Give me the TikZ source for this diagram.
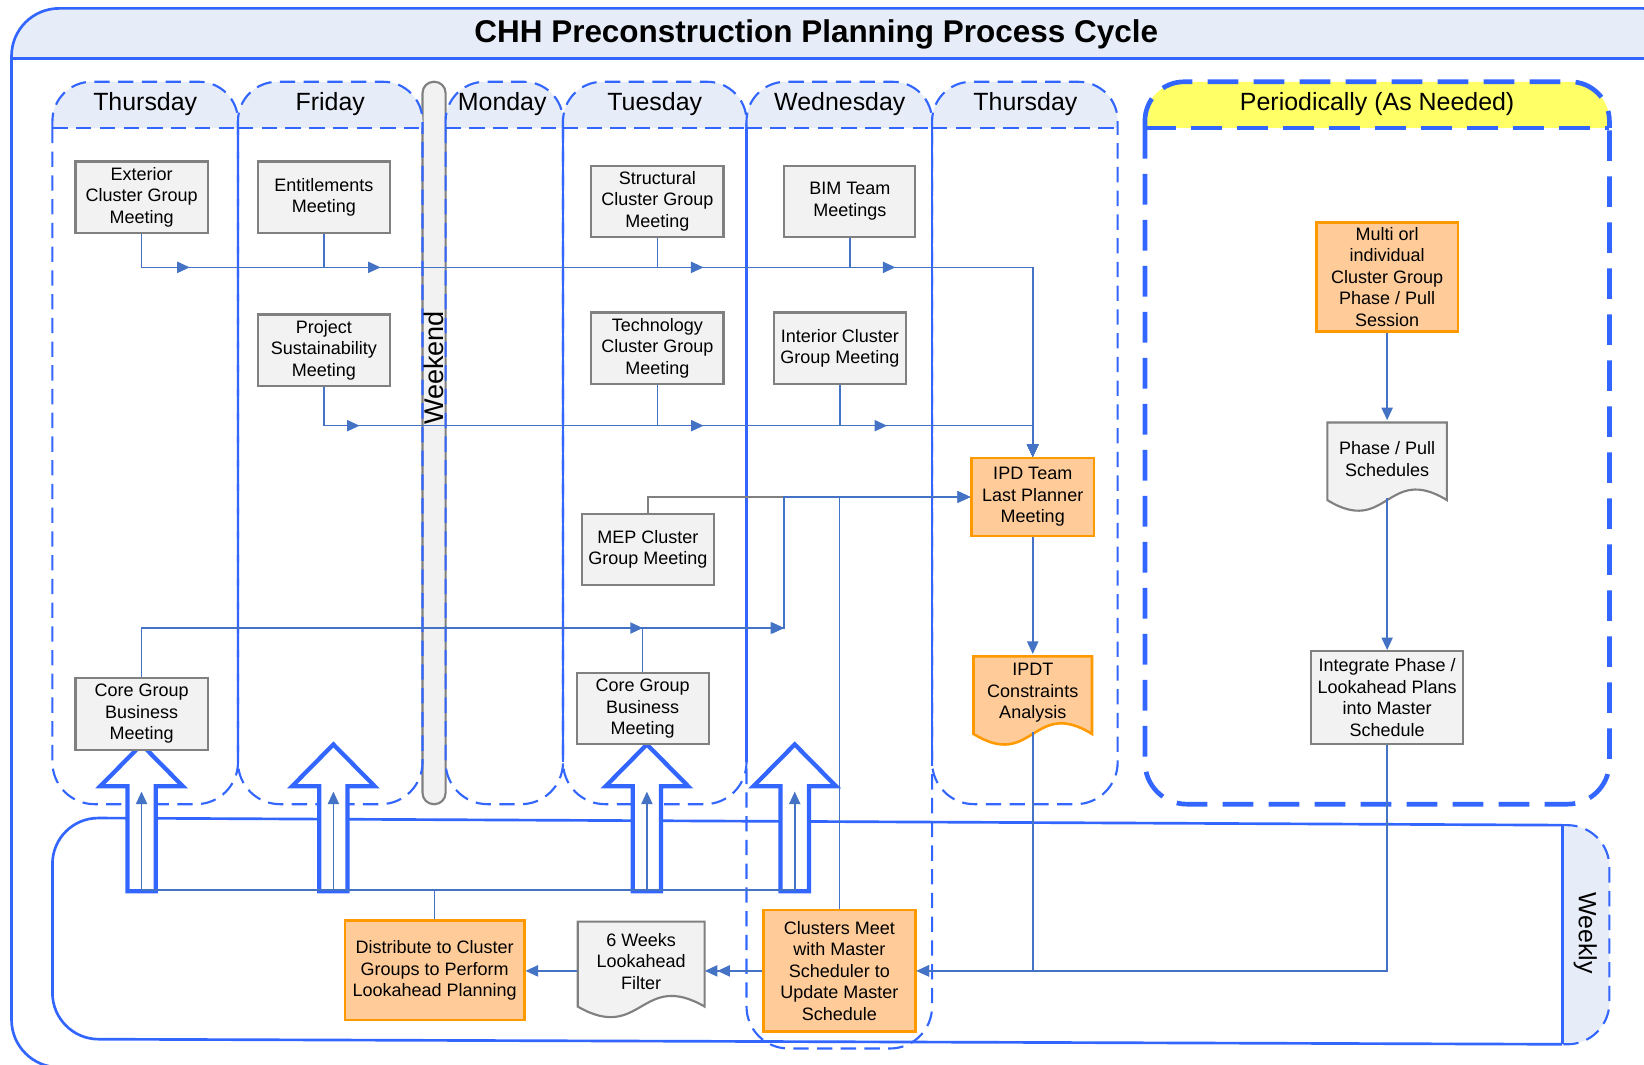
\documentclass[tikz,border=0pt]{standalone}
\usepackage{fontspec}
\setmainfont{Liberation Sans}
\usetikzlibrary{arrows.meta,decorations.markings}
\definecolor{laneblue}{RGB}{51,102,255}
\definecolor{connblue}{RGB}{68,114,196}
\definecolor{hdr}{RGB}{231,237,248}
\definecolor{boxfill}{RGB}{242,242,242}
\definecolor{boxgray}{RGB}{128,128,128}
\definecolor{orfill}{RGB}{255,204,153}
\definecolor{orbd}{RGB}{255,153,0}
\definecolor{yel}{RGB}{255,255,102}
\newcommand\bxfont{\fontsize{13.5}{16.1}\selectfont}
\newcommand\dyfont{\fontsize{18.7}{22}\selectfont}
\newcommand\wkfont{\fontsize{20.3}{24}\selectfont}
\newcommand\ttlfont{\fontsize{23.6}{28}\selectfont\bfseries}
\newcommand\docshape[6]{%
  \path[#1] (#2,#3) -- (#4,#3) -- (#4,#5) .. controls ({(#2+#4)/2},{#5-#6}) and ({(#2+#4)/2},{#5+#6}) .. (#2,#5) -- cycle;}
\newcommand\daylane[3]{%
  \fill[hdr,rounded corners=29.4pt] (#1,122) -- (#1,78) -- (#2,78) -- (#2,122);
  \draw[lanebd,rounded corners=29.4pt] (#1,122) -- (#1,78) -- (#2,78) -- (#2,122);
  \draw[lanebd] (#1,122) -- (#2,122);
  \draw[lanebd,rounded corners=31.5pt] (#1,122) -- (#1,#3) -- (#2,#3) -- (#2,122);}
\newcommand\bigarrow[1]{%
  \draw[bigarr] ({#1-13.5},850) -- ({#1-13.5},750) -- ({#1-39.5},750) -- (#1,710) -- ({#1+39.5},750) -- ({#1+13.5},750) -- ({#1+13.5},850) -- cycle;}
\begin{document}
\begin{tikzpicture}[x=0.7864pt,y=-0.7864pt,
  lanebd/.style={draw=laneblue,line width=1.6pt,dash pattern=on 11.5pt off 6.3pt},
  perbd/.style={draw=laneblue,line width=3.5pt,dash pattern=on 23pt off 11.5pt},
  solidlane/.style={draw=laneblue,line width=1.6pt},
  gbox/.style={draw=boxgray,fill=boxfill,line width=1.6pt,inner sep=0pt,align=center,font=\bxfont},
  obox/.style={draw=orbd,fill=orfill,line width=1.9pt,inner sep=0pt,align=center,font=\bxfont},
  gdoc/.style={draw=boxgray,fill=boxfill,line width=1.6pt},
  odoc/.style={draw=orbd,fill=orfill,line width=1.9pt},
  dtext/.style={inner sep=0pt,align=center,font=\bxfont},
  sz/.style 2 args={minimum width={#1*0.7864pt},minimum height={#2*0.7864pt}},
  conn/.style={color=connblue,line width=1.15pt,-{Triangle[length=9.4pt,width=8.4pt]}},
  graycon/.style={draw=boxgray,line width=1.6pt},
  midarr/.style={postaction={decorate},decoration={markings,mark=at position #1 with {\arrow{Triangle[length=9.4pt,width=8.4pt]}}}},
  midarrr/.style 2 args={postaction={decorate},decoration={markings,mark=at position #1 with {\arrow{Triangle[length=9.4pt,width=8.4pt]}},mark=at position #2 with {\arrow{Triangle[length=9.4pt,width=8.4pt]}}}},
  bigarr/.style={draw=laneblue,line width=3.2pt,fill=white,line join=miter},
  day/.style={font=\dyfont,inner sep=0pt}]
\useasboundingbox (0,0) rectangle (1568,1015);
\clip (0,0) rectangle (1568,1015);
\fill[white] (0,0) rectangle (1568,1015);
% outer frame
\fill[hdr,rounded corners=35.7pt] (11,56) -- (11,8) -- (1612,8) -- (1612,56);
\draw[solidlane,line width=2pt,rounded corners=35.7pt] (11,8) rectangle (1612,1018);
\draw[solidlane,line width=2pt] (11,56) -- (1612,56);
\node[font=\ttlfont,inner sep=0pt] (title) at (778.5,33) {CHH Preconstruction Planning Process Cycle};
% weekend bar
\draw[draw=boxgray,fill=boxfill,line width=1.6pt,rounded corners=8.4pt] (403,78) rectangle (425,767);
% day lanes
\daylane{50}{227}{767}
\daylane{227}{403}{767}
\daylane{425}{537}{767}
\daylane{537}{712}{767}
\daylane{712}{889}{1000}
\daylane{889}{1066}{767}
\foreach \xx in {227,537,712,889} {\draw[solidlane] (\xx,122) -- (\xx,727);}
% periodically lane
\fill[yel,rounded corners=29.4pt] (1092,122) -- (1092,78) -- (1535,78) -- (1535,122);
\draw[perbd,rounded corners=29.4pt] (1092,122) -- (1092,78) -- (1535,78) -- (1535,122);
\draw[perbd] (1092,122) -- (1535,122);
\draw[perbd,rounded corners=31.5pt] (1092,122) -- (1092,767) -- (1535,767) -- (1535,122);
% day labels
\node[day] (lThu1) at (138.5,99) {Thursday};
\node[day] (lFri) at (315,99) {Friday};
\node[day] (lMon) at (479,99) {Monday};
\node[day] (lTue) at (624.5,99) {Tuesday};
\node[day] (lWed) at (801,99) {Wednesday};
\node[day] (lThu2) at (978,99) {Thursday};
\node[day] (lPer) at (1313.5,99) {Periodically (As Needed)};
\node[font=\wkfont,rotate=90,inner sep=0pt] (wkend) at (414,351) {Weekend};
% weekly lane
\fill[hdr,rounded corners=31.5pt] (1490,787) -- (1535,787) -- (1535,996) -- (1490,996);
\draw[lanebd,rounded corners=31.5pt] (1490,787) -- (1535,787) -- (1535,996) -- (1490,996);
\draw[solidlane,line width=2pt,rounded corners=34.6pt] (1490,787) -- (50,780) -- (50,991) -- (1490,996);
\draw[solidlane,line width=2pt] (1490,787) -- (1490,996);
\node[day,rotate=-90] (lWeekly) at (1512,890) {Weekly};
% big hollow arrows
\bigarrow{135}
\bigarrow{318}
\bigarrow{617}
\bigarrow{758}
\coordinate (t1) at (135,755);
\coordinate (t2) at (318,755);
\coordinate (t3) at (617,755);
\coordinate (t4) at (758,755);
\coordinate (jm) at (748,474);
% document shapes
\docshape{odoc}{928.5}{626}{1041.5}{700}{35}
\docshape{gdoc}{1266}{403}{1380}{477}{35}
\docshape{gdoc}{551}{879}{672}{960}{35}
% nodes
\node[gbox,sz={126}{68}] (ext) at (135,188) {Exterior\\Cluster Group\\Meeting};
\node[gbox,sz={126}{68}] (ent) at (309,188) {Entitlements\\Meeting};
\node[gbox,sz={126}{68}] (proj) at (309,334) {Project\\Sustainability\\Meeting};
\node[gbox,sz={126}{68}] (str) at (627,192) {Structural\\Cluster Group\\Meeting};
\node[gbox,sz={125}{68}] (bim) at (810.5,192) {BIM Team\\Meetings};
\node[gbox,sz={126}{68}] (tech) at (627,332) {Technology\\Cluster Group\\Meeting};
\node[gbox,sz={126}{68}] (int) at (801,332) {Interior Cluster\\Group Meeting};
\node[gbox,sz={126}{68}] (mep) at (618,524) {MEP Cluster\\Group Meeting};
\node[gbox,sz={126}{68}] (coreA) at (135,681) {Core Group\\Business\\Meeting};
\node[gbox,sz={126}{68}] (coreB) at (613,676) {Core Group\\Business\\Meeting};
\node[obox,sz={117}{74}] (ipd) at (985,474) {IPD Team\\Last Planner\\Meeting};
\node[dtext,sz={113}{74}] (ipdt) at (985,661) {IPDT\\Constraints\\Analysis};
\node[obox,sz={135}{104}] (multi) at (1323,264) {Multi orl\\individual\\Cluster Group\\Phase / Pull\\Session};
\node[dtext,sz={114}{74}] (phase) at (1323,438) {Phase / Pull\\Schedules};
\node[gbox,sz={145}{89}] (integ) at (1323,665.5) {Integrate Phase /\\Lookahead Plans\\into Master\\Schedule};
\node[obox,sz={145}{116}] (cm) at (800.5,926) {Clusters Meet\\with Master\\Scheduler to\\Update Master\\Schedule};
\node[dtext,sz={121}{81}] (six) at (611.5,917) {6 Weeks\\Lookahead\\Filter};
\node[obox,sz={171}{95}] (dist) at (414.5,925.5) {Distribute to Cluster\\Groups to Perform\\Lookahead Planning};
% connectors
\draw[conn,midarr=61.3pt] (ext.south) |- (985,255) -- (ipd.north);
\draw[conn,midarr=67.6pt] (ent.south) |- (985,255) -- (ipd.north);
\draw[conn,midarr=56.6pt] (str.south) |- (985,255) -- (ipd.north);
\draw[conn,midarr=56.2pt] (bim.south) |- (985,255) -- (ipd.north);
\draw[conn,midarr=55.8pt] (proj.south) |- (985,406) -- (ipd.north);
\draw[conn,midarr=65.3pt] (tech.south) |- (985,406) -- (ipd.north);
\draw[conn,midarr=66.1pt] (int.south) |- (985,406) -- (ipd.north);
\draw[conn] (mep.north) |- (ipd.west);
\draw[graycon] (mep.north) |- (jm);
\draw[conn,midarrr={412.9pt}{519pt}] (coreA.north) |- (748,599) |- (ipd.west);
\draw[conn,midarr=138.4pt] (coreB.north) |- (748,599) |- (ipd.west);
\draw[conn] (cm.north) |- (ipd.west);
\draw[conn] (ipd.south) -- (ipdt.north);
\draw[conn] (ipdt.south) |- (cm.east);
\draw[conn] (multi.south) -- (phase.north);
\draw[conn] (phase.south) -- (integ.north);
\draw[conn] (integ.south) |- (cm.east);
\draw[conn,-{Triangle[length=9.4pt,width=8.4pt]Triangle[length=9.4pt,width=8.4pt]}] (cm.west) -- (cm.west -| six.east);
\draw[conn] (six.west |- cm.west) -- (dist.east |- cm.west);
\draw[conn] (dist.north) -- ++(0,-28) -| (t1);
\draw[conn] (dist.north) -- ++(0,-28) -| (t2);
\draw[conn] (dist.north) -- ++(0,-28) -| (t3);
\draw[conn] (dist.north) -- ++(0,-28) -| (t4);
\end{tikzpicture}
\end{document}
